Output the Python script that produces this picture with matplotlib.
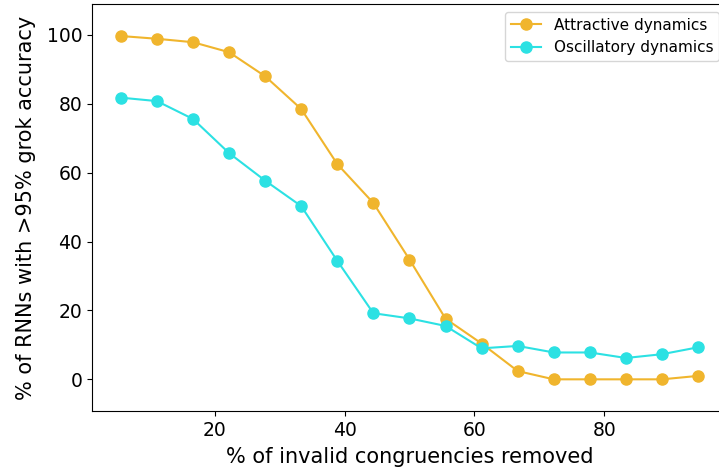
import numpy as np
import matplotlib.pyplot as plt

plt.rcParams['font.family'] = ['DejaVu Sans']

# % of invalid congruencies removed
removed = [5.56, 11.11, 16.67, 22.22, 27.78, 33.33, 38.89, 44.44, 50.0,
           55.56, 61.11, 66.67, 72.22, 77.78, 83.33, 88.89, 94.44]
# % of RNNs with >95% grok accuracy
attractive = [99.7, 98.9, 97.9, 95.0, 88.0, 78.5, 62.5, 51.2, 34.8,
              17.6, 10.4, 2.4, 0.0, 0.0, 0.0, 0.0, 1.0]
oscillatory = [81.8, 80.8, 75.6, 65.7, 57.7, 50.3, 34.4, 19.2, 17.7,
               15.5, 9.0, 9.7, 7.8, 7.8, 6.2, 7.3, 9.3]

fig = plt.figure(figsize=(7.19, 4.70), dpi=100)
# axes runs a little past the right edge of the image, as in the original crop
ax = fig.add_axes([0.128, 0.1255, 0.883, 0.866])
ax.plot(removed, attractive, marker='o', ms=8, lw=1.5, color='#f0b52d', label='Attractive dynamics')
ax.plot(removed, oscillatory, marker='o', ms=8, lw=1.5, color='#2ce1e3', label='Oscillatory dynamics')
ax.set_ylim(-9.2, 109)
ax.set_xlabel('% of invalid congruencies removed', fontsize=15, labelpad=5)
ax.set_ylabel('% of RNNs with >95% grok accuracy', fontsize=15, labelpad=8)
ax.tick_params(labelsize=13.5)
ax.legend(loc='upper right', fontsize=11)
fig.savefig('out.png', dpi=100)
